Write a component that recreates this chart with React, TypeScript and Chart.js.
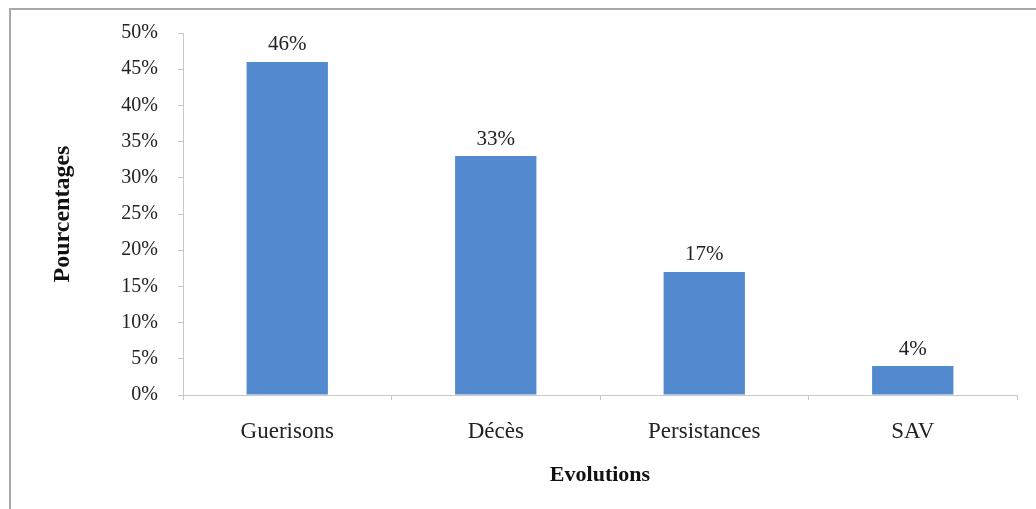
import React, { useEffect, useRef } from "react";
import { Chart, registerables } from "chart.js";

Chart.register(...registerables);

const categories = ["Guerisons", "Décès", "Persistances", "SAV"];
const values = [46, 33, 17, 4];
const yTicks = [0, 5, 10, 15, 20, 25, 30, 35, 40, 45, 50];

const SERIF = "'Liberation Serif', 'Times New Roman', serif";

const framePlugin = {
  id: "frame",
  beforeDraw(chart: any) {
    const ctx = chart.ctx;
    ctx.save();
    ctx.fillStyle = "#ffffff";
    ctx.fillRect(0, 0, chart.width, chart.height);
    ctx.strokeStyle = "#a8a8a8";
    ctx.lineWidth = 2;
    ctx.beginPath();
    ctx.moveTo(10, chart.height);
    ctx.lineTo(10, 9);
    ctx.lineTo(chart.width, 9);
    ctx.stroke();
    ctx.restore();
  },
};

const labelPlugin = {
  id: "valueLabels",
  afterDatasetsDraw(chart: any) {
    const ctx = chart.ctx;
    const meta = chart.getDatasetMeta(0);
    ctx.save();
    ctx.font = `21px ${SERIF}`;
    ctx.fillStyle = "#222222";
    ctx.textAlign = "center";
    ctx.textBaseline = "middle";
    meta.data.forEach((bar: any, i: number) => {
      ctx.fillText(values[i] + "%", bar.x, bar.y - 17);
    });
    ctx.restore();
  },
};

export default function App() {
  const ref = useRef<HTMLCanvasElement>(null);
  useEffect(() => {
    if (!ref.current) return;
    const chart = new Chart(ref.current, {
      type: "bar",
      data: {
        labels: categories,
        datasets: [
          {
            data: values,
            backgroundColor: "#5389CF",
            borderWidth: 0,
            barPercentage: 0.39,
            categoryPercentage: 1,
          },
        ],
      },
      options: {
        animation: false,
        responsive: false,
        maintainAspectRatio: false,
        layout: { padding: { left: 0, top: 33, right: 19, bottom: 0 } },
        plugins: {
          legend: { display: false },
          tooltip: { enabled: false },
        },
        scales: {
          x: {
            grid: {
              drawOnChartArea: false,
              drawTicks: true,
              tickLength: 5,
              color: "#c8c8c8",
            },
            border: { color: "#c8c8c8", width: 1 },
            ticks: {
              font: { family: SERIF, size: 23 },
              color: "#222222",
              padding: 18,
              maxRotation: 0,
            },
            title: {
              display: true,
              text: "Evolutions",
              font: { family: SERIF, size: 22, weight: "bold" },
              color: "#111111",
              padding: { top: 0, bottom: 20 },
            },
            afterFit(scale: any) {
              scale.height = 114;
            },
          },
          y: {
            min: 0,
            max: 50,
            afterBuildTicks(scale: any) {
              scale.ticks = yTicks.map((v) => ({ value: v }));
            },
            grid: {
              drawOnChartArea: false,
              drawTicks: true,
              tickLength: 5,
              color: "#c8c8c8",
            },
            border: { color: "#c8c8c8", width: 1 },
            ticks: {
              font: { family: SERIF, size: 20 },
              color: "#222222",
              padding: 20,
              callback: (v: any) => v + "%",
            },
            title: {
              display: true,
              text: "Pourcentages",
              font: { family: SERIF, size: 24, weight: "bold" },
              color: "#111111",
              padding: { top: 48, bottom: 0 },
            },
            afterFit(scale: any) {
              scale.width = 183;
            },
          },
        },
      },
      plugins: [framePlugin, labelPlugin],
    });
    return () => chart.destroy();
  }, []);
  return (
    <div style={{ position: "fixed", left: 0, top: 0, width: 1036, height: 509, background: "#fff" }}>
      <canvas ref={ref} width={1036} height={509} style={{ display: "block", width: 1036, height: 509 }} />
    </div>
  );
}
